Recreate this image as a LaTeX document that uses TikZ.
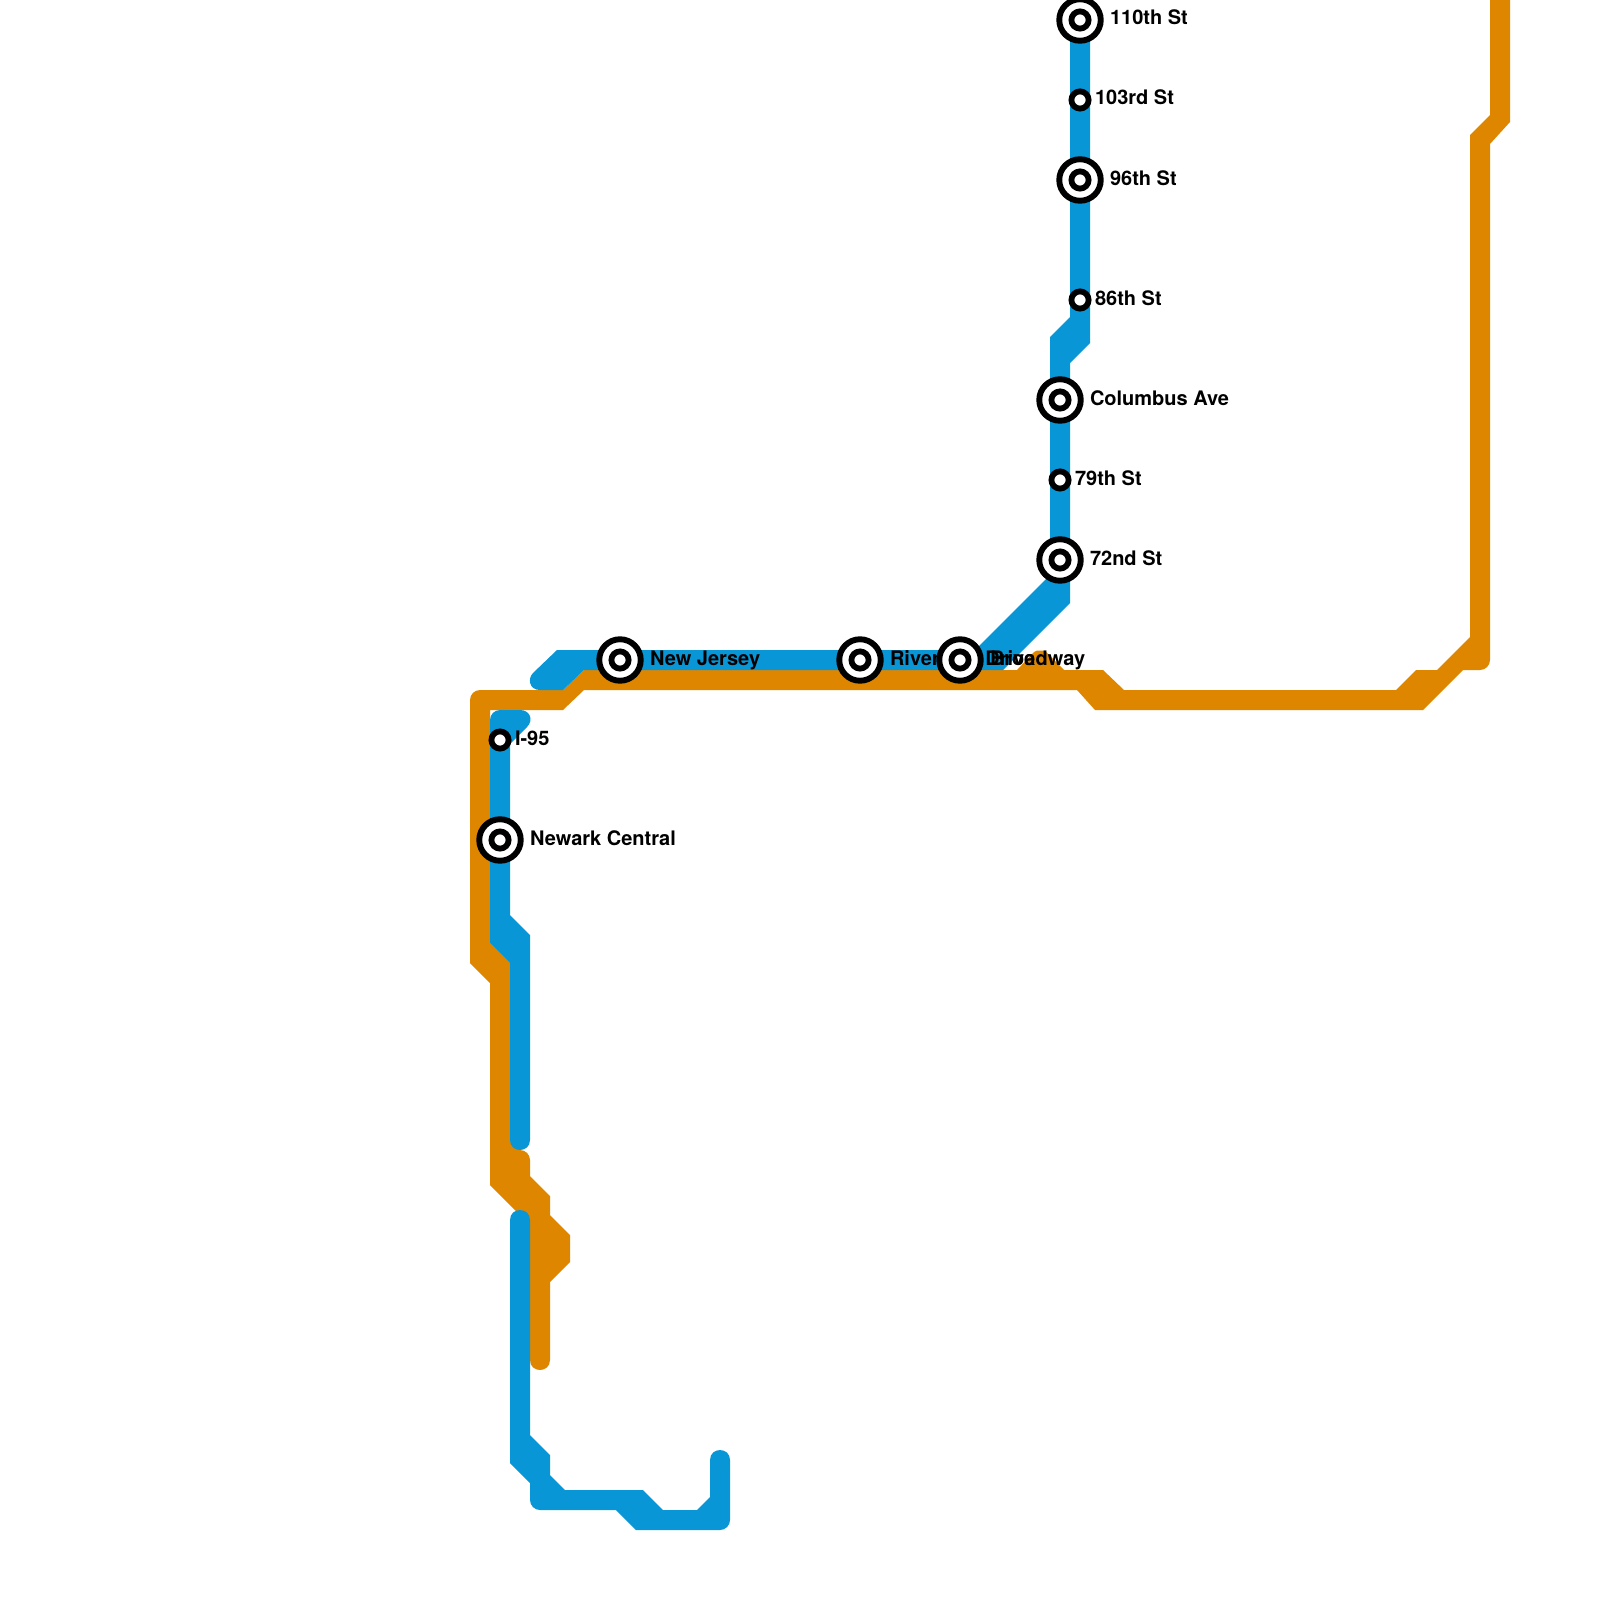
\documentclass[tikz,border=0pt]{standalone}
\usepackage{fontspec}
\setmainfont{TeX Gyre Heros}
\definecolor{lineblue}{HTML}{0896D7}
\definecolor{lineorange}{HTML}{DF8600}
\tikzset{
  orangeline/.style={fill=lineorange},
  blueline/.style={fill=lineblue},
  bigring/.style={circle,draw=black,fill=white,line width=5.9pt,inner sep=0pt,minimum size=41.5pt},
  smallring/.style={circle,draw=black,fill=white,line width=5.8pt,inner sep=0pt,minimum size=17.2pt},
  stationlabel/.style={anchor=base west,inner sep=0pt,outer sep=0pt,text=black,font=\fontsize{20}{24}\selectfont\bfseries}
}
\begin{document}
\begin{tikzpicture}[x=1pt,y=-1pt]
\useasboundingbox (0,0) rectangle (1600,1600);
% orange line
\path[orangeline] (470,700) .. controls (470,694.5) and (474.5,690) .. (480,690) -- (563,690) -- (584,670) -- (1017,670) -- (1034,652) -- (1037,650.5) -- (1043,650.5) -- (1046,652) -- (1064,670) -- (1103,670) -- (1124,690) -- (1396,690) -- (1416,670) -- (1437,670) -- (1470,637) -- (1470,135) -- (1490,115) -- (1490,-5) -- (1510,-5) -- (1510,122) -- (1490,144) -- (1490,660) .. controls (1490,665.5) and (1485.5,670) .. (1480,670) -- (1463,670) -- (1423,710) -- (1095,710) -- (1077,690) -- (584,690) -- (563,710) -- (490,710) -- (490,943) -- (510,963) -- (510,1140) -- (520,1140) -- (520,1150) .. controls (525.5,1150) and (530,1154.5) .. (530,1160) -- (530,1176) -- (550,1196) -- (550,1215) -- (570,1235) -- (570,1262) -- (550,1282) -- (550,1360) .. controls (550,1373.3) and (530,1373.3) .. (530,1360) -- (530,1225) -- (490,1185) -- (490,983) -- (470,963) -- cycle;
% blue line
\path[blueline] (1070,10) -- (1070,317) -- (1050,337) -- (1050,575) -- (975,650) -- (557,650) -- (533,673) .. controls (527.5,678.5) and (529,690) .. (540,690) -- (563,690) -- (584,670) -- (1003,670) -- (1070,603) -- (1070,363) -- (1090,343) -- (1090,10) -- cycle;
\path[blueline] (490,720) .. controls (490,714.5) and (494.5,710) .. (500,710) -- (520,710) .. controls (530,710) and (534,720) .. (527,727) -- (510,744) -- (510,915) -- (530,935) -- (530,1140) .. controls (530,1153.3) and (510,1153.3) .. (510,1140) -- (510,963) -- (490,943) -- cycle;
\path[blueline] (510,1220) .. controls (510,1206.7) and (530,1206.7) .. (530,1220) -- (530,1435) -- (550,1455) -- (550,1475) -- (565,1490) -- (643,1490) -- (663,1510) -- (697,1510) -- (710,1497) -- (710,1460) .. controls (710,1446.7) and (730,1446.7) .. (730,1460) -- (730,1520) .. controls (730,1525.5) and (725.5,1530) .. (720,1530) -- (636,1530) -- (616,1510) -- (540,1510) .. controls (534.5,1510) and (530,1505.5) .. (530,1500) -- (530,1483) -- (510,1463) -- cycle;
% labels
\node[stationlabel] (l110) at (1110,25) {110th St};
\node[stationlabel] (l103) at (1095,105) {103rd St};
\node[stationlabel] (l96) at (1110,185) {96th St};
\node[stationlabel] (l86) at (1095,305) {86th St};
\node[stationlabel] (lcol) at (1090,405) {Columbus Ave};
\node[stationlabel] (l79) at (1075,485) {79th St};
\node[stationlabel] (l72) at (1090,565) {72nd St};
\node[stationlabel] (lbro) at (990,665) {Broadway};
\node[stationlabel] (lriv) at (890,665) {Riverside Drive};
\node[stationlabel] (lnj) at (650,665) {New Jersey};
\node[stationlabel] (lnew) at (530,845) {Newark Central};
\node[stationlabel] (li95) at (515,745) {I-95};
% stations
\node[bigring] (s110) at (1080,20) {};
\node[smallring] (s110c) at (1080,20) {};
\node[smallring] (s103) at (1080,100) {};
\node[bigring] (s96) at (1080,180) {};
\node[smallring] (s96c) at (1080,180) {};
\node[smallring] (s86) at (1080,300) {};
\node[bigring] (scol) at (1060,400) {};
\node[smallring] (scolc) at (1060,400) {};
\node[smallring] (s79) at (1060,480) {};
\node[bigring] (s72) at (1060,560) {};
\node[smallring] (s72c) at (1060,560) {};
\node[bigring] (sbro) at (960,660) {};
\node[smallring] (sbroc) at (960,660) {};
\node[bigring] (sriv) at (860,660) {};
\node[smallring] (srivc) at (860,660) {};
\node[bigring] (snj) at (620,660) {};
\node[smallring] (snjc) at (620,660) {};
\node[bigring] (snew) at (500,840) {};
\node[smallring] (snewc) at (500,840) {};
\node[smallring] (si95) at (500,740) {};
\end{tikzpicture}
\end{document}
